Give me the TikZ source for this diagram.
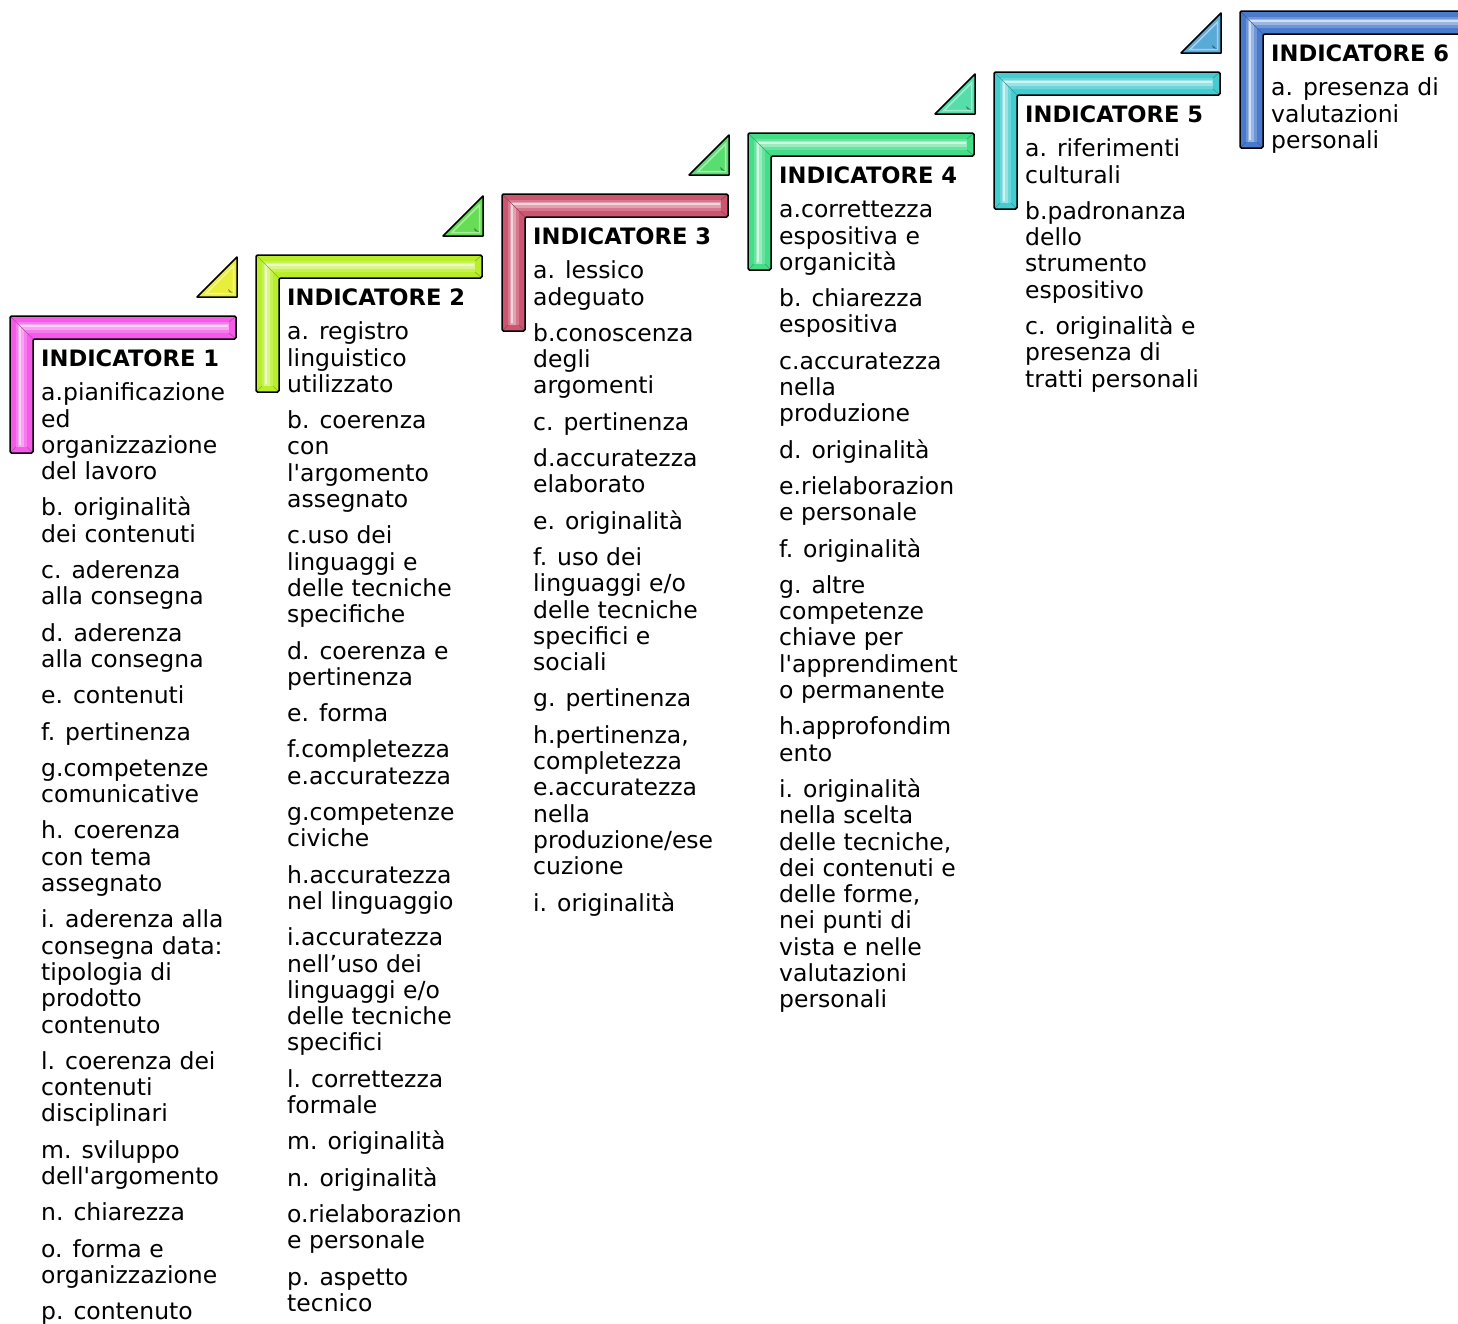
\documentclass[tikz,border=0pt]{standalone}
\usepackage{fontspec}
\newfontfamily\vf{DejaVu Sans}
\definecolor{lA}{HTML}{F55AE8}
\definecolor{tA}{HTML}{E8EE3A}
\definecolor{lB}{HTML}{B8EE2A}
\definecolor{tB}{HTML}{66DD55}
\definecolor{lC}{HTML}{CC5570}
\definecolor{tC}{HTML}{5ADD70}
\definecolor{lD}{HTML}{44DD88}
\definecolor{tD}{HTML}{55DDAA}
\definecolor{lE}{HTML}{44CCD0}
\definecolor{tE}{HTML}{5AAAD8}
\definecolor{lF}{HTML}{4A7ACC}
\newcommand\stepL[3]{%
  \begin{scope}[shift={(#1,#2)}]
    \fill[#3] (0,0) -- (226,0) -- (226,23) -- (23,23) -- (23,137) -- (0,137) -- cycle;
    \draw[#3!80!white, line width=11pt, line join=miter] (11,131) -- (11,11) -- (219,11);
    \draw[#3!55!white, line width=6pt, line join=miter] (10.5,131) -- (10.5,10.5) -- (219,10.5);
    \draw[#3!25!white, line width=2pt, line join=miter] (10,129) -- (10,10) -- (218,10);
    \draw[#3!75!black, line width=0.6pt] (0,0) -- (23,23) (226,0) -- (219,6) (226,23) -- (219,17) (0,137) -- (6,131) (23,137) -- (17,131);
    \draw[black, line width=1.5pt, rounded corners=1.5pt] (0,0) -- (226,0) -- (226,23) -- (23,23) -- (23,137) -- (0,137) -- cycle;
  \end{scope}}
\newcommand\stepT[3]{%
  \begin{scope}[shift={(#1,#2)}]
    \fill[#3] (187,-19) -- (227,-19) -- (227,-59) -- cycle;
    \draw[#3!55!white, line width=1.5pt] (196,-22.5) -- (223.5,-22.5) -- (223.5,-50) -- cycle;
    \fill[#3!60!black] (218,-27) -- (223,-23) -- (219,-24) -- cycle;
    \draw[black, line width=1.5pt, line join=round] (187,-19) -- (227,-19) -- (227,-59) -- cycle;
  \end{scope}}
\tikzset{coltext/.style={anchor=base west, inner sep=0pt, font={\vf\fontsize{23.5}{26.3}\selectfont}}}
\newcommand\hd[1]{{\fontsize{22.6}{26.3}\selectfont\textbf{#1}}\\[8.4pt]}
\newcommand\nx{\\[10pt]}
\begin{document}
\begin{tikzpicture}[x=1pt,y=-1pt]
\useasboundingbox (0,0) rectangle (1458,1323);
\clip (0,0) rectangle (1458,1323);
\fill[white] (0,0) rectangle (1458,1323);
\stepL{10}{316}{lA}\stepT{10}{316}{tA}
\stepL{256}{255}{lB}\stepT{256}{255}{tB}
\stepL{502}{194}{lC}\stepT{502}{194}{tC}
\stepL{748}{133}{lD}\stepT{748}{133}{tD}
\stepL{994}{72}{lE}\stepT{994}{72}{tE}
\stepL{1240}{11}{lF}
\node[coltext] (c1) at (41,366) {\parbox[t]{230pt}{\raggedright\hd{INDICATORE 1}%
a.pianificazione\\ ed\\ organizzazione\\ del lavoro\nx
b. originalità\\ dei contenuti\nx
c. aderenza\\ alla consegna\nx
d. aderenza\\ alla consegna\nx
e. contenuti\nx
f. pertinenza\nx
g.competenze\\ comunicative\nx
h. coerenza\\ con tema\\ assegnato\nx
i. aderenza alla\\ consegna data:\\ tipologia di\\ prodotto\\ contenuto\nx
l. coerenza dei\\ contenuti\\ disciplinari\nx
m. sviluppo\\ dell'argomento\nx
n. chiarezza\nx
o. forma e\\ organizzazione\nx
p. contenuto}};
\node[coltext] (c2) at (287,305) {\parbox[t]{230pt}{\raggedright\hd{INDICATORE 2}%
a. registro\\ linguistico\\ utilizzato\nx
b. coerenza\\ con\\ l'argomento\\ assegnato\nx
c.uso dei\\ linguaggi e\\ delle tecniche\\ specifiche\nx
d. coerenza e\\ pertinenza\nx
e. forma\nx
f.completezza\\ e.accuratezza\nx
g.competenze\\ civiche\nx
h.accuratezza\\ nel linguaggio\nx
i.accuratezza\\ nell’uso dei\\ linguaggi e/o\\ delle tecniche\\ specifici\nx
l. correttezza\\ formale\nx
m. originalità\nx
n. originalità\nx
o.rielaborazion\\ e personale\nx
p. aspetto\\ tecnico}};
\node[coltext] (c3) at (533,244) {\parbox[t]{230pt}{\raggedright\hd{INDICATORE 3}%
a. lessico\\ adeguato\nx
b.conoscenza\\ degli\\ argomenti\nx
c. pertinenza\nx
d.accuratezza\\ elaborato\nx
e. originalità\nx
f. uso dei\\ linguaggi e/o\\ delle tecniche\\ specifici e\\ sociali\nx
g. pertinenza\nx
h.pertinenza,\\ completezza\\ e.accuratezza\\ nella\\ produzione/ese\\ cuzione\nx
i. originalità}};
\node[coltext] (c4) at (779,183) {\parbox[t]{230pt}{\raggedright\hd{INDICATORE 4}%
a.correttezza\\ espositiva e\\ organicità\nx
b. chiarezza\\ espositiva\nx
c.accuratezza\\ nella\\ produzione\nx
d. originalità\nx
e.rielaborazion\\ e personale\nx
f. originalità\nx
g. altre\\ competenze\\ chiave per\\ l'apprendiment\\ o permanente\nx
h.approfondim\\ ento\nx
i. originalità\\ nella scelta\\ delle tecniche,\\ dei contenuti e\\ delle forme,\\ nei punti di\\ vista e nelle\\ valutazioni\\ personali}};
\node[coltext] (c5) at (1025,122) {\parbox[t]{230pt}{\raggedright\hd{INDICATORE 5}%
a. riferimenti\\ culturali\nx
b.padronanza\\ dello\\ strumento\\ espositivo\nx
c. originalità e\\ presenza di\\ tratti personali}};
\node[coltext] (c6) at (1271,61) {\parbox[t]{230pt}{\raggedright\hd{INDICATORE 6}%
a. presenza di\\ valutazioni\\ personali}};
\end{tikzpicture}
\end{document}
